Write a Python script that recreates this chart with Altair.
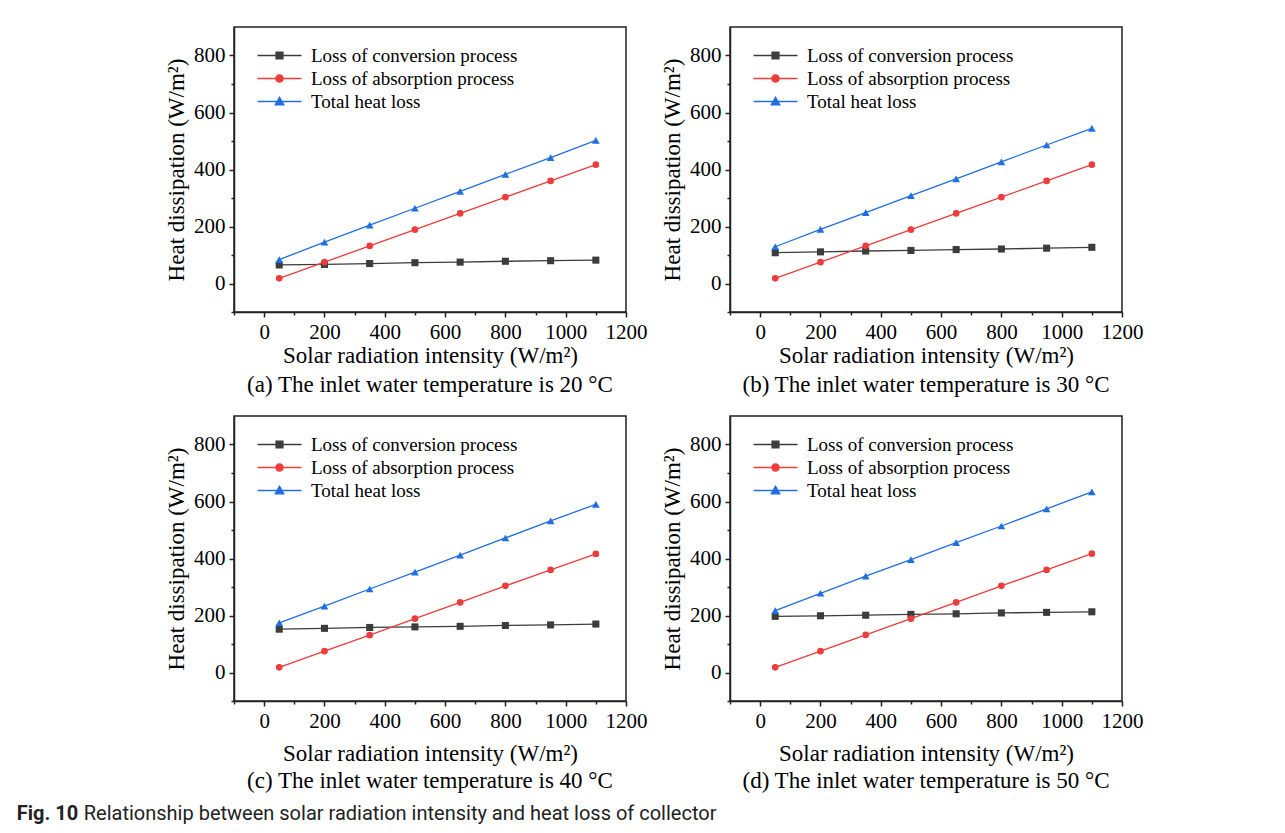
import altair as alt
import pandas as pd

# ---------------- data ----------------
x_vals = [50, 200, 350, 500, 650, 800, 950, 1100]
series_names = ["Loss of conversion process", "Loss of absorption process", "Total heat loss"]
series_colors = ["#3c3c3c", "#ee3b3b", "#1f6fe0"]

conv_20 = [65, 67, 70, 73, 75, 78, 80, 82]
absn_20 = [18, 75, 132, 189, 246, 303, 360, 417]
total_20 = [84, 145, 205, 264, 323, 383, 442, 502]

conv_30 = [108, 111, 114, 116, 119, 121, 124, 127]
absn_30 = [18, 75, 132, 189, 246, 303, 360, 417]
total_30 = [129, 190, 249, 308, 367, 427, 486, 544]

conv_40 = [152, 155, 158, 160, 162, 165, 167, 170]
absn_40 = [18, 75, 131, 189, 246, 304, 360, 416]
total_40 = [174, 233, 293, 352, 412, 472, 532, 590]

conv_50 = [197, 199, 201, 204, 206, 209, 211, 213]
absn_50 = [18, 75, 132, 189, 246, 304, 360, 417]
total_50 = [217, 278, 338, 396, 456, 514, 574, 634]

panel_captions = [
    "(a) The inlet water temperature is 20 \u00b0C",
    "(b) The inlet water temperature is 30 \u00b0C",
    "(c) The inlet water temperature is 40 \u00b0C",
    "(d) The inlet water temperature is 50 \u00b0C",
]

x_major_ticks = [0, 200, 400, 600, 800, 1000, 1200]
x_minor_ticks = [-100, 100, 300, 500, 700, 900, 1100]
y_major_ticks = [0, 200, 400, 600, 800]
y_minor_ticks = [-100, 100, 300, 500, 700]

x_title = "Solar radiation intensity (W/m\u00b2)"
y_title = "Heat dissipation (W/m\u00b2)"
fig_label = "Fig. 10"
fig_caption = "Relationship between solar radiation intensity and heat loss of collector"

# ---------------- styling ----------------
SERIF = "Liberation Serif"
AXIS_COLOR = "#222222"
marker_shapes = ["square", "circle", "triangle-up"]
marker_sizes = [50, 44, 60]
legend_paths = [
    "M-5.5,0H5.5M-0.85,-0.85H0.85V0.85H-0.85Z",
    "M-5.5,0H5.5M0.9,0A0.9,0.9 0 1,1 -0.9,0A0.9,0.9 0 1,1 0.9,0Z",
    "M-5.5,0H5.5M0,-1.05L1.05,0.8H-1.05Z",
]

x_scale = alt.Scale(domain=[-100, 1200], nice=False, zero=False)
y_scale = alt.Scale(domain=[-100, 900], nice=False, zero=False)


def make_df(conv, absn, total):
    rows = []
    for name, vals in zip(series_names, [conv, absn, total]):
        for xv, v in zip(x_vals, vals):
            rows.append({"x": xv, "value": v, "series": name})
    return pd.DataFrame(rows)


def panel(df, caption, xtitle_pad, cap_offset):
    base = alt.Chart(df)

    x_major = alt.X(
        "x:Q", scale=x_scale,
        axis=alt.Axis(values=x_major_ticks, title=x_title, orient="bottom", format="d",
                      tickSize=5, labelPadding=4, titlePadding=xtitle_pad,
                      labelFlush=False, labelOverlap=False, grid=False),
    )
    y_major = alt.Y(
        "value:Q", scale=y_scale,
        axis=alt.Axis(values=y_major_ticks, title=y_title, orient="left", format="d",
                      tickSize=5, labelPadding=4, titlePadding=5,
                      labelOverlap=False, grid=False),
    )
    x_plain = alt.X("x:Q", scale=x_scale, axis=None)
    y_plain = alt.Y("value:Q", scale=y_scale, axis=None)

    layers = []
    # lines (first one carries the main axes)
    for i, (name, col) in enumerate(zip(series_names, series_colors)):
        layers.append(
            base.transform_filter(alt.datum.series == name)
            .mark_line(strokeWidth=1.3, color=col)
            .encode(x=x_major if i == 0 else x_plain, y=y_major if i == 0 else y_plain)
        )
    # markers
    for name, col, shp, sz in zip(series_names, series_colors, marker_shapes, marker_sizes):
        layers.append(
            base.transform_filter(alt.datum.series == name)
            .mark_point(filled=True, shape=shp, size=sz, opacity=1, color=col)
            .encode(x=x_plain, y=y_plain)
        )

    # minor ticks
    minor = base.transform_filter("false").mark_point(opacity=0).encode(
        x=alt.X("x:Q", scale=x_scale,
                axis=alt.Axis(values=x_minor_ticks, labels=False, domain=False,
                              tickSize=3, title=None, orient="bottom", grid=False)),
        y=alt.Y("value:Q", scale=y_scale,
                axis=alt.Axis(values=y_minor_ticks, labels=False, domain=False,
                              tickSize=3, title=None, orient="left", grid=False)),
    )
    layers.append(minor)

    # legend (line + marker symbols)
    leg_def = alt.Legend(
        title=None, orient="none", legendX=36, legendY=19,
        symbolSize=64, symbolStrokeWidth=1.4, symbolOpacity=1,
        labelOffset=22, rowPadding=3, padding=0,
        labelFont=SERIF, labelFontSize=19, labelColor="#000000",
        labelLimit=400,
    )
    leg = base.transform_filter("false").mark_point(
        filled=True, size=64, opacity=1, strokeWidth=1.4
    ).encode(
        x=x_plain, y=y_plain,
        fill=alt.Fill("series:N", scale=alt.Scale(domain=series_names, range=series_colors), legend=leg_def),
        stroke=alt.Stroke("series:N", scale=alt.Scale(domain=series_names, range=series_colors), legend=leg_def),
        shape=alt.Shape("series:N", scale=alt.Scale(domain=series_names, range=legend_paths), legend=leg_def),
    )
    layers.append(leg)

    return (
        alt.layer(*layers)
        .resolve_axis(x="independent", y="independent")
        .properties(
            width=392, height=285,
            title=alt.TitleParams(caption, orient="bottom", anchor="middle", frame="group",
                                  offset=cap_offset, font=SERIF, fontSize=23, fontWeight="normal",
                                  color="#000000"),
        )
    )


def indep(ch):
    return ch.resolve_scale(fill="independent", stroke="independent", shape="independent").resolve_legend(
        fill="independent", stroke="independent", shape="independent")


pa = panel(make_df(conv_20, absn_20, total_20), panel_captions[0], 2, 7)
pb = panel(make_df(conv_30, absn_30, total_30), panel_captions[1], 2, 7)
pc = panel(make_df(conv_40, absn_40, total_40), panel_captions[2], 11, 5)
pd_ = panel(make_df(conv_50, absn_50, total_50), panel_captions[3], 11, 5)

row1 = indep(alt.hconcat(pa, pb, spacing=12))
row2 = indep(alt.hconcat(pc, pd_, spacing=12))

grid = indep(alt.vconcat(row1, row2, spacing=17)).properties(
    title=alt.TitleParams(
        fig_label, orient="bottom", anchor="start", dx=-148, offset=10,
        font="Roboto", fontSize=20, fontWeight="bold", color="#222222",
    )
)

chart = (
    indep(alt.vconcat(grid, spacing=0))
    .properties(
        title=alt.TitleParams(
            fig_caption, orient="bottom", anchor="start", dx=67, dy=-20, offset=0,
            font="Roboto", fontSize=20, fontWeight="normal", color="#222222",
        ),
        padding={"left": 8, "top": 18, "right": 5, "bottom": 5},
    )
    .configure_view(stroke=AXIS_COLOR, strokeWidth=1.5)
    .configure_axis(
        labelFont=SERIF, labelFontSize=21, labelColor="#000000",
        titleFont=SERIF, titleFontSize=23, titleFontWeight="normal", titleColor="#000000",
        domainColor=AXIS_COLOR, domainWidth=1.5, tickColor=AXIS_COLOR, tickWidth=1.5,
    )
)

chart.save("out.html", embed_options={"renderer": "svg", "actions": False})
